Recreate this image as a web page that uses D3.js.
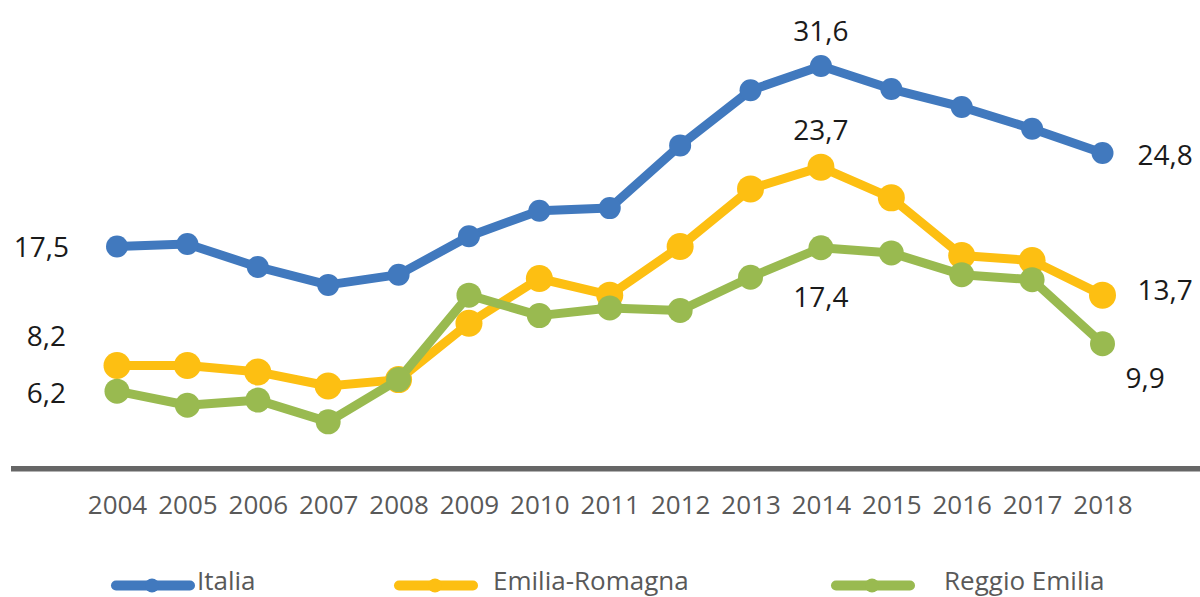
<!DOCTYPE html>
<html><head><meta charset="utf-8">
<script src="https://cdn.jsdelivr.net/npm/d3@7"></script>
<style>body{margin:0;background:#fff}svg{display:block}</style>
</head><body><svg id="c" width="1200" height="597"></svg>
<script>
const years = ["2004","2005","2006","2007","2008","2009","2010","2011","2012","2013","2014","2015","2016","2017","2018"];
const italia = [17.5,17.7,15.9,14.5,15.3,18.3,20.3,20.5,25.4,29.7,31.6,29.8,28.4,26.7,24.8];
const emilia = [8.2,8.2,7.7,6.6,7.1,11.5,15.0,13.7,17.5,22.0,23.7,21.3,16.8,16.4,13.7];
const reggio = [6.2,5.1,5.5,3.8,7.1,13.7,12.1,12.7,12.5,15.1,17.4,17.0,15.3,14.9,9.9];
const seriesNames = ["Italia","Emilia-Romagna","Reggio Emilia"];
const colors = ["#4179BE","#FDBF12","#99BA50"];
const radii = [11,13.5,12.5];

const svg = d3.select("#c");
const x = d3.scalePoint().domain(years).range([117,1102.5]);
const y = d3.scaleLinear().domain([0,35]).range([470.5,22.5]);

// axis
svg.append("line").attr("x1",11).attr("x2",1200)
  .attr("y1",y(0)-1.8).attr("y2",y(0)-1.8)
  .attr("stroke","#666").attr("stroke-width",5.5);
const xAxis = d3.axisBottom(x).tickSize(0).tickPadding(0);
const g = svg.append("g").attr("transform",`translate(0,${y(0)+25})`).call(xAxis);
g.select(".domain").remove();
g.selectAll("text").attr("font-family","Open Sans").attr("font-size",26).attr("fill","#595959").attr("dy","0.72em");

const data = [italia,emilia,reggio];
const line = d3.line().x((d,i)=>x(years[i])).y(d=>y(d));
data.forEach((vals,s)=>{
  svg.append("path").datum(vals).attr("d",line).attr("fill","none")
    .attr("stroke",colors[s]).attr("stroke-width",9).attr("stroke-linejoin","round");
  svg.selectAll(null).data(vals).enter().append("circle")
    .attr("cx",(d,i)=>x(years[i])).attr("cy",d=>y(d)).attr("r",radii[s]).attr("fill",colors[s]);
});

// data labels
const fmt = v => d3.format(".1f")(v).replace(".",",");
const labels = [
  {s:0,i:0,dx:-48,dy:0,anchor:"end"},
  {s:0,i:10,dx:0,dy:-35,anchor:"middle"},
  {s:0,i:14,dx:35,dy:2,anchor:"start"},
  {s:1,i:0,dx:-51,dy:-30,anchor:"end"},
  {s:1,i:10,dx:0,dy:-37,anchor:"middle"},
  {s:1,i:14,dx:35,dy:-5,anchor:"start"},
  {s:2,i:0,dx:-51,dy:2,anchor:"end"},
  {s:2,i:10,dx:0,dy:49,anchor:"middle"},
  {s:2,i:14,dx:23,dy:34,anchor:"start"}
];
labels.forEach(l=>{
  const v = data[l.s][l.i];
  svg.append("text").attr("x",x(years[l.i])+l.dx).attr("y",y(v)+l.dy)
    .attr("dy","0.36em").attr("text-anchor",l.anchor)
    .attr("font-family","Open Sans").attr("font-size",28).attr("fill","#1a1a1a")
    .text(fmt(v));
});

// legend
const legX = [112,395,832];
const legY = 585.5;
seriesNames.forEach((n,s)=>{
  const lg = svg.append("g");
  lg.append("line").attr("x1",legX[s]+4).attr("x2",legX[s]+78).attr("y1",legY).attr("y2",legY)
    .attr("stroke",colors[s]).attr("stroke-width",10).attr("stroke-linecap","round");
  lg.append("circle").attr("cx",legX[s]+40).attr("cy",legY).attr("r",7).attr("fill",colors[s]);
  lg.append("text").attr("x",legX[s]+(s===2?112:(s===1?98:85))).attr("y",legY+4.5)
    .attr("font-family","Open Sans").attr("font-size",26).attr("fill","#595959").text(n);
});
</script></body></html>
